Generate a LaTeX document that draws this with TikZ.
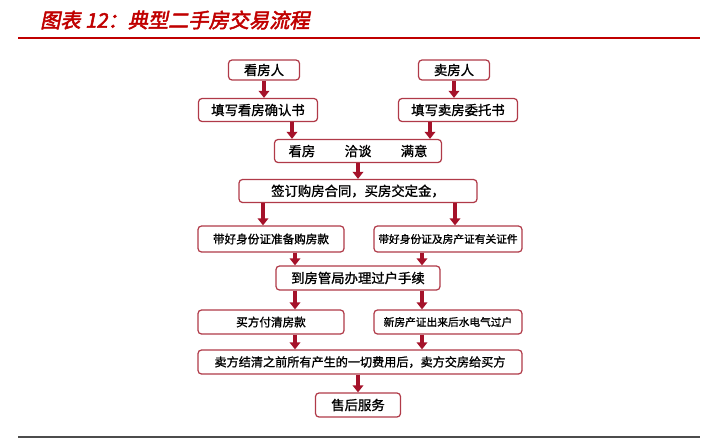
\documentclass[tikz,border=0pt]{standalone}
\usepackage{fontspec}
\setmainfont{Noto Sans CJK SC}[FakeBold=1]
\newfontfamily\boxfont{Noto Sans CJK SC}[FakeBold=1.2]
\newfontfamily\titlefont{Noto Sans CJK SC}[FakeSlant=0.2,FakeBold=2.5]
\usetikzlibrary{arrows.meta}
\definecolor{boxred}{HTML}{B03A48}
\definecolor{arrred}{HTML}{A5122A}
\definecolor{titlered}{HTML}{C00000}
\tikzset{
  flowbox/.style={draw=boxred,line width=0.7pt,rounded corners=2pt,fill=white,
    inner sep=0pt,font=\boxfont\fontsize{7.6}{9}\selectfont},
  small/.style={font=\boxfont\fontsize{6.6}{8}\selectfont},
  arr/.style={draw=arrred,line width=1.8pt,-{Triangle[width=6pt,length=4pt]}}
}
\begin{document}
\begin{tikzpicture}[x=0.02cm,y=-0.02cm]
\useasboundingbox (0,0) rectangle (710,441);
% title and rules
\node[anchor=west,text=titlered,font=\titlefont\fontsize{11.5}{13}\selectfont] (title) at (34,20) {图表 12：典型二手房交易流程};
\draw[titlered,line width=0.8pt] (18,38) -- (700,38);
\draw[black!70,line width=0.6pt] (18,437) -- (700,437);

% boxes
\node[flowbox,minimum width=71*0.02cm,minimum height=20*0.02cm] (buyer) at (264,70) {看房人};
\node[flowbox,minimum width=71*0.02cm,minimum height=20*0.02cm] (seller) at (454,70) {卖房人};
\node[flowbox,minimum width=119*0.02cm,minimum height=23*0.02cm] (confirm) at (258,110) {填写看房确认书};
\node[flowbox,minimum width=119*0.02cm,minimum height=23*0.02cm] (entrust) at (458,110) {填写卖房委托书};
\node[flowbox,minimum width=167*0.02cm,minimum height=23*0.02cm] (talk) at (358,151) {看房\hspace{2.2em}洽谈\hspace{2.2em}满意};
\node[flowbox,minimum width=238*0.02cm,minimum height=23*0.02cm] (contract) at (358,191) {签订购房合同，买房交定金，};
\node[flowbox,small,minimum width=146*0.02cm,minimum height=26*0.02cm] (money) at (271,239) {带好身份证准备购房款};
\node[flowbox,small,minimum width=148*0.02cm,minimum height=26*0.02cm,font=\boxfont\fontsize{6.1}{8}\selectfont] (papers) at (448,239) {带好身份证及房产证有关证件};
\node[flowbox,minimum width=164*0.02cm,minimum height=24*0.02cm] (transfer) at (358,278) {到房管局办理过户手续};
\node[flowbox,small,minimum width=146*0.02cm,minimum height=24*0.02cm] (pay) at (271,322) {买方付清房款};
\node[flowbox,small,minimum width=148*0.02cm,minimum height=24*0.02cm,font=\boxfont\fontsize{6.1}{8}\selectfont] (utility) at (448,322) {新房产证出来后水电气过户};
\node[flowbox,small,minimum width=324*0.02cm,minimum height=24*0.02cm,font=\boxfont\fontsize{6.9}{8}\selectfont] (handover) at (360,362) {卖方结清之前所有产生的一切费用后，卖方交房给买方};
\node[flowbox,minimum width=85*0.02cm,minimum height=24*0.02cm] (service) at (358,405) {售后服务};

% arrows
\draw[arr] (buyer.south) -- (buyer.south |- confirm.north);
\draw[arr] (seller.south) -- (seller.south |- entrust.north);
\draw[arr] (confirm.south -| 292,0) -- (talk.north -| 292,0);
\draw[arr] (entrust.south -| 430,0) -- (talk.north -| 430,0);
\draw[arr] (talk.south) -- (contract.north);
\draw[arr] (contract.south -| 263,0) -- (money.north -| 263,0);
\draw[arr] (contract.south -| 455,0) -- (papers.north -| 455,0);
\draw[arr] (money.south -| 295,0) -- (transfer.north -| 295,0);
\draw[arr] (papers.south -| 422,0) -- (transfer.north -| 422,0);
\draw[arr] (transfer.south -| 295,0) -- (pay.north -| 295,0);
\draw[arr] (transfer.south -| 422,0) -- (utility.north -| 422,0);
\draw[arr] (pay.south -| 295,0) -- (handover.north -| 295,0);
\draw[arr] (utility.south -| 422,0) -- (handover.north -| 422,0);
\draw[arr] (handover.south -| 358,0) -- (service.north -| 358,0);
\end{tikzpicture}
\end{document}
